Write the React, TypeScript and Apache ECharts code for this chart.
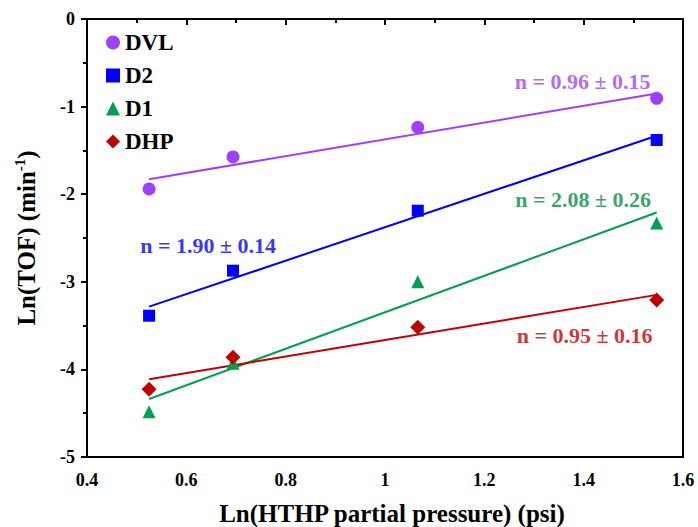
import React, { useEffect, useRef } from "react";
import * as echarts from "echarts";

const xVals = [0.525, 0.694, 1.066, 1.547];
const seriesNames = ["DVL", "D2", "D1", "DHP"];
const dvl = [-1.94, -1.575, -1.236, -0.905];
const d2 = [-3.387, -2.873, -2.188, -1.381];
const d1 = [-4.483, -3.93, -2.999, -2.33];
const dhp = [-4.227, -3.862, -3.52, -3.208];
const fitLabels = ["n = 0.96 ± 0.15", "n = 1.90 ± 0.14", "n = 2.08 ± 0.26", "n = 0.95 ± 0.16"];
const labelPosDVL = [1.398, -0.716];
const labelPosD2 = [0.644, -2.588];
const labelPosD1 = [1.399, -2.055];
const labelPosDHP = [1.402, -3.615];

const FONT = '"Liberation Serif", "Times New Roman", serif';

function fit(xs: number[], ys: number[]) {
  const n = xs.length;
  const mx = xs.reduce((a, b) => a + b, 0) / n;
  const my = ys.reduce((a, b) => a + b, 0) / n;
  let sxy = 0, sxx = 0;
  for (let i = 0; i < n; i++) {
    sxy += (xs[i] - mx) * (ys[i] - my);
    sxx += (xs[i] - mx) ** 2;
  }
  const k = sxy / sxx;
  const b = my - k * mx;
  const x0 = Math.min(...xs), x1 = Math.max(...xs);
  return [[x0, k * x0 + b], [x1, k * x1 + b]];
}

export default function App() {
  const ref = useRef<HTMLDivElement>(null);
  useEffect(() => {
    const chart = echarts.init(ref.current!, null, { renderer: "svg" });
    const defs = [
      { name: "DVL", ys: dvl, color: "#A040FF", textColor: "#A040FF", symbol: "circle", size: 13, lp: labelPosDVL, label: fitLabels[0] },
      { name: "D2", ys: d2, color: "#0000FF", textColor: "#0000FF", symbol: "rect", size: 12, lp: labelPosD2, label: fitLabels[1] },
      { name: "D1", ys: d1, color: "#00A050", textColor: "#008C45", symbol: "triangle", size: 13, lp: labelPosD1, label: fitLabels[2] },
      { name: "DHP", ys: dhp, color: "#C00000", textColor: "#C00000", symbol: "diamond", size: 15, lp: labelPosDHP, label: fitLabels[3] },
    ];
    const series: any[] = [];
    defs.forEach((d) => {
      series.push({
        type: "line",
        name: d.name + "-fit",
        data: fit(xVals, d.ys),
        showSymbol: false,
        symbol: "none",
        lineStyle: { color: d.color, width: 2 },
        z: 2,
        silent: true,
      });
    });
    defs.forEach((d) => {
      series.push({
        type: "scatter",
        name: d.name,
        data: xVals.map((x, i) => [x, d.ys[i]]),
        symbol: d.symbol,
        symbolSize: d.size,
        itemStyle: { color: d.color, opacity: 1 },
        z: 3,
      });
    });
    defs.forEach((d) => {
      series.push({
        type: "scatter",
        name: d.name + "-label",
        data: [d.lp],
        symbolSize: 0,
        silent: true,
        label: {
          show: true,
          position: "inside",
          formatter: d.label,
          color: d.textColor,
          fontFamily: FONT,
          fontWeight: "bold",
          fontSize: 22,
        },
        z: 4,
      });
    });
    chart.setOption({
      animation: false,
      backgroundColor: "#fff",
      grid: {
        left: 87,
        right: 15,
        top: 19,
        bottom: 70,
        show: true,
        borderColor: "#000",
        borderWidth: 2,
        containLabel: false,
        outerBoundsMode: "none",
      },
      legend: {
        data: seriesNames,
        orient: "vertical",
        left: 106,
        top: 31,
        padding: 0,
        itemWidth: 14,
        itemHeight: 14,
        itemGap: 10,
        textStyle: {
          fontFamily: FONT,
          fontWeight: "bold",
          fontSize: 23,
          color: "#000",
          lineHeight: 23,
        },
        selectedMode: false,
      },
      xAxis: {
        type: "value",
        min: 0.4,
        max: 1.6,
        interval: 0.2,
        name: "Ln(HTHP partial pressure) (psi)",
        nameLocation: "middle",
        nameGap: 44,
        nameTextStyle: { fontFamily: FONT, fontWeight: "bold", fontSize: 25, color: "#000", padding: [0, 0, 0, 14] },
        axisLine: { show: true, lineStyle: { color: "#000", width: 2 } },
        axisTick: { show: true, inside: false, length: 6, lineStyle: { color: "#000", width: 2 } },
        minorTick: { show: true, splitNumber: 2, length: 4, lineStyle: { color: "#000", width: 2 } },
        axisLabel: { fontFamily: FONT, fontWeight: "bold", fontSize: 18, color: "#000", margin: 14 },
        splitLine: { show: false },
      },
      yAxis: {
        type: "value",
        min: -5,
        max: 0,
        interval: 1,
        name: "{a|Ln(TOF) (min}{s|-1}{a|)}",
        nameLocation: "middle",
        nameGap: 46,
        nameRotate: 90,
        nameTextStyle: {
          rich: {
            a: { fontFamily: FONT, fontWeight: "bold", fontSize: 25, color: "#000", lineHeight: 30 },
            s: { fontFamily: FONT, fontWeight: "bold", fontSize: 15, color: "#000", lineHeight: 30, padding: [0, 0, 12, 0] },
          },
        },
        axisLine: { show: true, lineStyle: { color: "#000", width: 2 } },
        axisTick: { show: true, inside: false, length: 6, lineStyle: { color: "#000", width: 2 } },
        minorTick: { show: true, splitNumber: 2, length: 4, lineStyle: { color: "#000", width: 2 } },
        axisLabel: { fontFamily: FONT, fontWeight: "bold", fontSize: 18, color: "#000", margin: 12 },
        splitLine: { show: false },
      },
      series,
    });
    return () => chart.dispose();
  }, []);
  return (
    <div
      ref={ref}
      style={{ position: "fixed", left: 0, top: 0, width: 698, height: 527, background: "#fff" }}
    />
  );
}
